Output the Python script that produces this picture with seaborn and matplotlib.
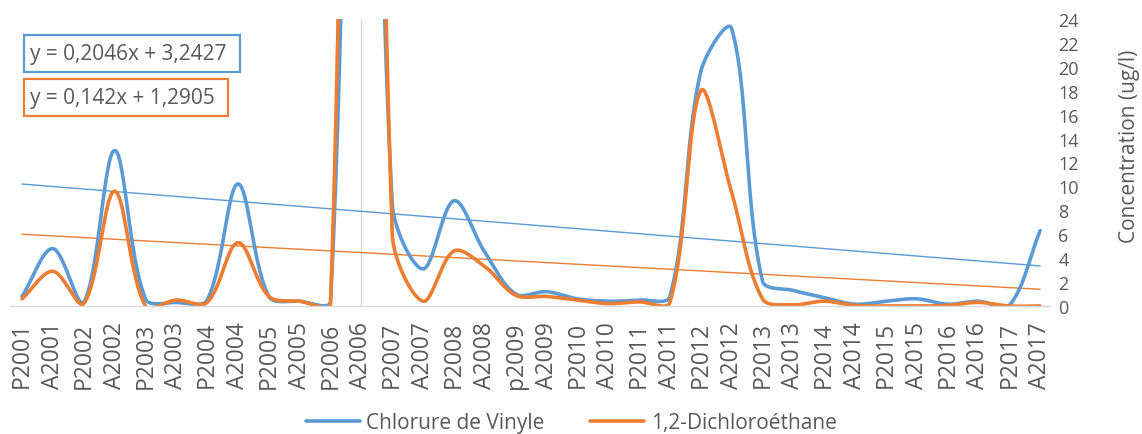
import numpy as np
import pandas as pd
import matplotlib
matplotlib.use("Agg")
import matplotlib.pyplot as plt
from matplotlib.patches import Rectangle
import seaborn as sns

categories = ["P2001", "A2001", "P2002", "A2002", "P2003", "A2003", "P2004", "A2004",
              "P2005", "A2005", "P2006", "A2006", "P2007", "A2007", "P2008", "A2008",
              "p2009", "A2009", "P2010", "A2010", "P2011", "A2011", "P2012", "A2012",
              "P2013", "A2013", "P2014", "A2014", "P2015", "A2015", "P2016", "A2016",
              "P2017", "A2017"]
vinyl = [0.8, 4.8, 0.3, 13.0, 0.6, 0.3, 0.5, 10.2,
         0.8, 0.4, 0.4, 100.0, 8.5, 3.1, 8.8, 4.5,
         1.0, 1.2, 0.6, 0.4, 0.5, 0.8, 19.6, 23.2,
         2.1, 1.3, 0.7, 0.15, 0.4, 0.6, 0.15, 0.4,
         0.05, 6.3]
dce = [0.6, 2.9, 0.2, 9.6, 0.0, 0.5, 0.3, 5.3,
       0.8, 0.4, 0.2, 150.0, 6.0, 0.4, 4.6, 3.3,
       0.9, 0.8, 0.5, 0.2, 0.35, 0.3, 18.0, 9.5,
       0.6, 0.1, 0.4, 0.05, 0.0, 0.0, 0.05, 0.3,
       0.0, 0.0]
trend_vinyl = [10.2, 3.35]   # trendline value at first and last category
trend_dce = [6.0, 1.4]
eq_vinyl = "y = 0,2046x + 3,2427"
eq_dce = "y = 0,142x + 1,2905"
series_names = ["Chlorure de Vinyle", "1,2-Dichloroéthane"]
yticks = list(range(0, 25, 2))
ylabel = "Concentration (ug/l)"

BLUE = "#5B9BD5"
ORANGE = "#ED7D31"
GREY = "#595959"

W, H = 1142, 435
sns.set_theme(style="white")
plt.rcParams["font.family"] = ["Open Sans", "DejaVu Sans"]

fig = plt.figure(figsize=(W / 100, H / 100), dpi=100)
ax = fig.add_axes([10 / W, 128 / H, 1040 / W, 287 / H])

SX = 1040 / (33 + 0.39 + 0.32)   # px per category step
SY = 287 / 24                   # px per unit


def smooth(vals, n=60):
    """Excel-like smoothed line: Bezier segments with control points scaled by segment lengths."""
    P = np.column_stack([np.arange(len(vals)) * SX, np.asarray(vals, float) * SY])
    N = len(P)
    out = []
    for i in range(N - 1):
        p0, p1 = P[i], P[i + 1]
        prev = P[i - 1] if i > 0 else P[i]
        nxt = P[i + 2] if i + 2 < N else P[i + 1]
        d1 = np.linalg.norm(p0 - prev)
        d2 = np.linalg.norm(p1 - p0)
        c1 = p0 + (p1 - prev) / 3 * (d2 / (d1 + d2))
        e1 = np.linalg.norm(p1 - p0)
        e2 = np.linalg.norm(nxt - p1)
        c2 = p1 - (nxt - p0) / 3 * (e1 / (e1 + e2))
        t = np.linspace(0, 1, n, endpoint=(i == N - 2))[:, None]
        B = (1 - t) ** 3 * p0 + 3 * (1 - t) ** 2 * t * c1 + 3 * (1 - t) * t ** 2 * c2 + t ** 3 * p1
        out.append(B)
    B = np.vstack(out)
    return B[:, 0] / SX, B[:, 1] / SY


frames = []
for name, vals in zip(series_names, [vinyl, dce]):
    xs, ys = smooth(vals)
    frames.append(pd.DataFrame({"x": xs, "y": ys, "series": name}))
df = pd.concat(frames, ignore_index=True)

palette = {series_names[0]: BLUE, series_names[1]: ORANGE}

# light vertical marker line seen at A2006
ax.axvline(categories.index("A2006"), color="#d9d9d9", lw=1, zorder=0)

# trendlines
trend_df = pd.DataFrame({
    "x": [0, len(categories) - 1, 0, len(categories) - 1],
    "y": trend_vinyl + trend_dce,
    "series": [series_names[0]] * 2 + [series_names[1]] * 2,
})
sns.lineplot(data=trend_df, x="x", y="y", hue="series", palette=palette,
             estimator=None, sort=False, lw=1.0, legend=False, ax=ax)

sns.lineplot(data=df, x="x", y="y", hue="series", palette=palette,
             estimator=None, sort=False, lw=2.6, ax=ax)

ax.set_xlim(-0.39, 33.32)
ax.set_ylim(0, 24)
ax.set_xticks(range(len(categories)))
ax.set_xticklabels(categories, rotation=90, fontsize=16.5, color=GREY)
ax.yaxis.tick_right()
ax.set_yticks(yticks)
ax.set_yticklabels([str(v) for v in yticks], fontsize=13, color=GREY)
ax.tick_params(axis="x", length=0, pad=11)
ax.tick_params(axis="y", length=0, pad=6)
ax.set_xlabel("")
ax.set_ylabel("")
fig.text(1129 / W, 1 - 146 / H, ylabel, fontsize=15, color=GREY, rotation=90,
         ha="center", va="center", rotation_mode="anchor")

for s in ["top", "left", "right"]:
    ax.spines[s].set_visible(False)
ax.spines["bottom"].set_color("#d9d9d9")
ax.spines["bottom"].set_linewidth(1)

# legend
sns.move_legend(ax, "center", bbox_to_anchor=(0.5, 1 - 424 / H), bbox_transform=fig.transFigure,
                ncol=2, frameon=False, title=None, fontsize=15, handlelength=2.6,
                columnspacing=2.2, handletextpad=0.3, labelcolor=GREY, borderpad=0)
for line in ax.get_legend().get_lines():
    line.set_linewidth(2.6)

# trendline equation boxes
for (x0, y0, x1, y1), txt, col in [((24, 36, 240, 73), eq_vinyl, BLUE),
                                    ((24, 80, 228, 117), eq_dce, ORANGE)]:
    fig.patches.append(Rectangle((x0 / W, 1 - y1 / H), (x1 - x0) / W, (y1 - y0) / H,
                                 transform=fig.transFigure, fill=True, facecolor="white",
                                 edgecolor=col, lw=1.6, zorder=5))
    fig.text((x0 + 6) / W, 1 - (y0 + y1) / 2 / H, txt, fontsize=15, color=GREY,
             va="center", ha="left", zorder=6)

fig.savefig("out.png", dpi=100)
